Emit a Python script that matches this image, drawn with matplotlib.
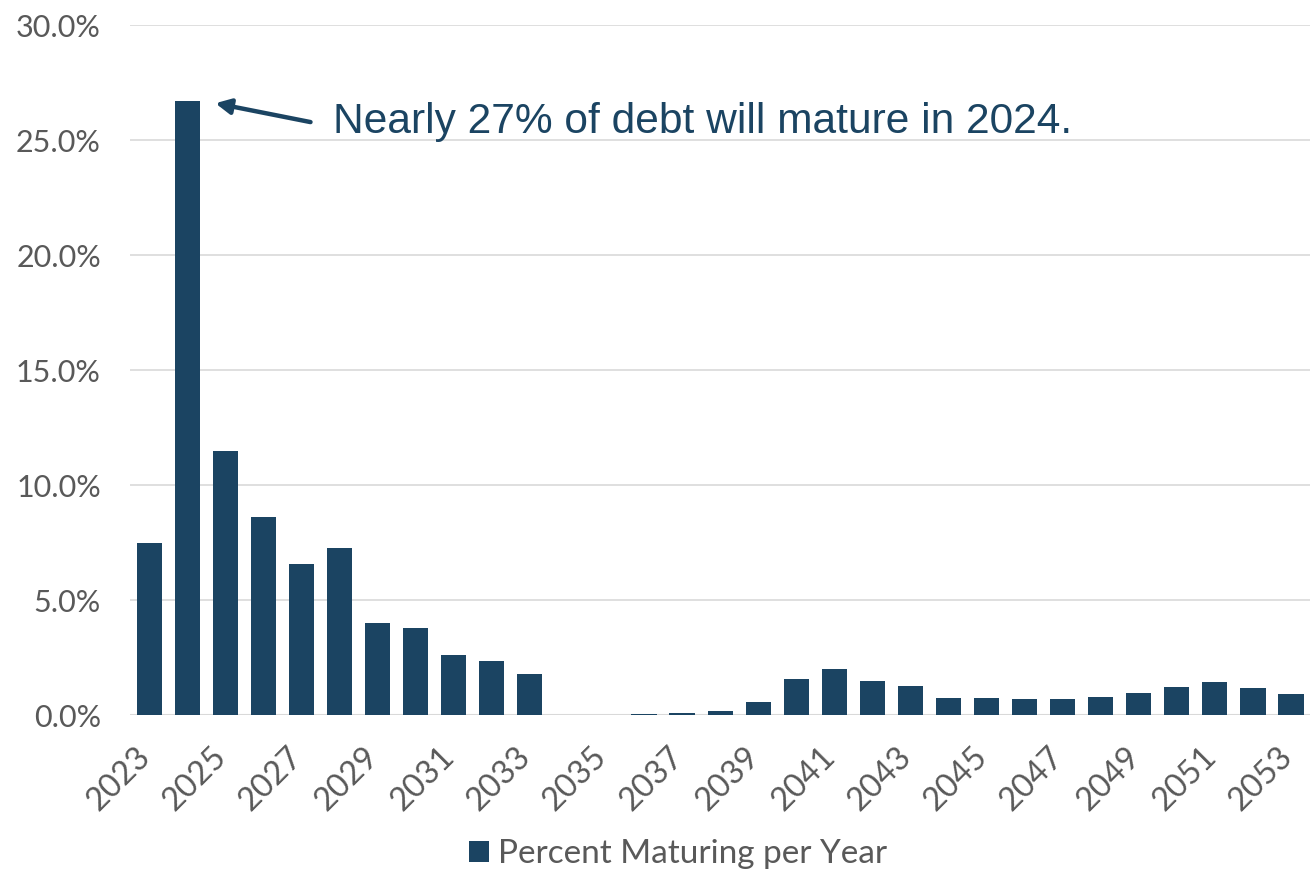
import matplotlib
matplotlib.use("Agg")
import matplotlib.pyplot as plt
from matplotlib.transforms import ScaledTranslation

years = list(range(2023, 2054))
pct = [7.46, 26.68, 11.49, 8.62, 6.56, 7.24, 4.01, 3.78, 2.62, 2.34, 1.80,
       0.0, 0.0, 0.06, 0.10, 0.16, 0.55, 1.57, 2.00, 1.48, 1.28, 0.73,
       0.73, 0.70, 0.71, 0.80, 0.96, 1.21, 1.45, 1.19, 0.92]
yticks = [0, 5, 10, 15, 20, 25, 30]
ytick_labels = ["0.0%", "5.0%", "10.0%", "15.0%", "20.0%", "25.0%", "30.0%"]
series_name = "Percent Maturing per Year"
note = "Nearly 27% of debt will mature in 2024."

bar_color = "#1B4462"
grid_color = "#D9D9D9"
tick_color = "#595959"
tick_font = "Lato"

fig = plt.figure(figsize=(13.14, 8.69), dpi=100)
ax = fig.add_axes([0.099, 0.1772, 0.898, 0.794])

x = list(range(len(years)))
ax.bar(x, pct, width=0.66, color=bar_color, label=series_name, zorder=3)

ax.set_xlim(-0.5, len(years) - 0.5)
ax.set_ylim(0, 30)
ax.set_yticks(yticks)
ax.set_yticklabels(ytick_labels, fontsize=22, color=tick_color, fontfamily=tick_font)
ax.yaxis.grid(True, color=grid_color, linewidth=1.2, zorder=0)
ax.set_axisbelow(True)
for s in ["top", "right", "left", "bottom"]:
    ax.spines[s].set_visible(False)
ax.axhline(0, color=grid_color, linewidth=1.5, zorder=2)

tick_pos = x[::2]
ax.set_xticks(tick_pos)
ax.set_xticklabels([str(years[i]) for i in tick_pos], rotation=45, ha="right", va="top",
                   fontsize=23.5, color=tick_color, fontfamily=tick_font)
ax.tick_params(axis="x", length=0, pad=19)
ax.tick_params(axis="y", length=0, pad=21)
off = ScaledTranslation(7 / 100, 0, fig.dpi_scale_trans)
for lab in ax.get_xticklabels():
    lab.set_transform(lab.get_transform() + off)

# annotation
ax.annotate("", xy=(1.74, 26.6), xytext=(4.24, 25.78),
            arrowprops=dict(arrowstyle="-|>,head_length=0.9,head_width=0.45",
                            lw=3.2, color=bar_color, shrinkA=0, shrinkB=0))
ax.text(4.82, 25.8, note, ha="left", va="center", fontsize=30.6,
        color=bar_color, fontfamily="Liberation Sans")

leg = fig.legend(loc="center", bbox_to_anchor=(0.516, 0.017), frameon=False,
                 prop={"family": tick_font, "size": 24},
                 handlelength=0.6, handleheight=0.6, handletextpad=0.25,
                 borderpad=0.1)
for t in leg.get_texts():
    t.set_color(tick_color)

fig.savefig("out.png", dpi=100)
